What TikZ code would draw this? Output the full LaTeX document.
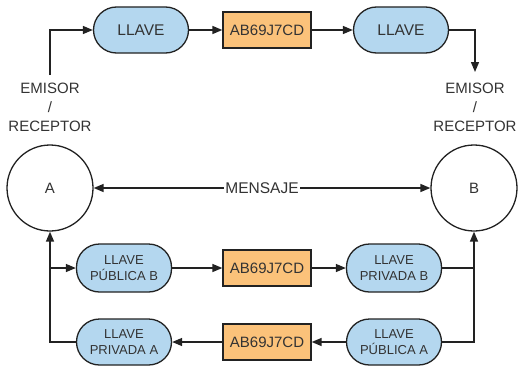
\documentclass[tikz,border=0pt]{standalone}
\usepackage{fontspec}
\setmainfont{Liberation Sans}
\usetikzlibrary{arrows.meta}
\definecolor{pillblue}{HTML}{B4D7EF}
\definecolor{boxorange}{HTML}{FBC27A}
\definecolor{txt}{HTML}{333333}
\definecolor{edge}{HTML}{222222}
\begin{document}
\begin{tikzpicture}[x=1pt,y=-1pt,
  pill/.style={draw=edge, line width=1.3pt, fill=pillblue, rounded corners=#1, minimum width=95pt, inner sep=0pt, text=txt, align=center},
  pill/.default=23pt,
  keybox/.style={draw=edge, line width=1.3pt, fill=boxorange, minimum width=88pt, minimum height=36pt, inner sep=0pt, text=txt, font=\fontsize{15}{18}\selectfont},
  party/.style={draw=edge, line width=1.3pt, circle, minimum size=86pt, inner sep=0pt, text=txt, font=\fontsize{15}{18}\selectfont},
  lbl/.style={text=txt, align=center, font=\fontsize{15}{19}\selectfont},
  conn/.style={draw=edge, line width=1.4pt},
  arr/.style={conn, -{Triangle[length=10pt,width=8pt]}},
  biarr/.style={conn, {Triangle[length=10pt,width=8pt]}-{Triangle[length=10pt,width=8pt]}}
]
\useasboundingbox (0,0) rectangle (518,369);
% top row
\node[pill, minimum height=46pt, font=\fontsize{15.5}{18}\selectfont] (k1) at (141,30) {LLAVE};
\node[keybox] (c1) at (267,30) {AB69J7CD};
\node[pill, minimum height=46pt, font=\fontsize{15.5}{18}\selectfont] (k2) at (401,30) {LLAVE};
\node[lbl] (e1) at (50,107) {EMISOR\\/\\RECEPTOR};
\node[lbl] (e2) at (475,107) {EMISOR\\/\\RECEPTOR};
\coordinate (s1) at (50,75);
\coordinate (t2) at (475,72);
\draw[arr] (s1) |- (k1.west);
\draw[arr] (k1.east) -- (c1.west);
\draw[arr] (c1.east) -- (k2.west);
\draw[arr] (k2.east) -| (t2);
% circles
\node[party] (a) at (50,188) {A};
\node[party] (b) at (474,188) {B};
\draw[biarr] (a.east) -- (b.west) node[midway, fill=white, inner xsep=1pt, text=txt, font=\fontsize{15.5}{18}\selectfont] (msg) {MENSAJE};
% row 2
\node[pill, minimum height=48pt, font=\fontsize{13}{16}\selectfont] (pubb) at (124,268) {LLAVE\\PÚBLICA B};
\node[keybox] (c2) at (267,268) {AB69J7CD};
\node[pill, minimum height=48pt, font=\fontsize{13}{16}\selectfont] (prvb) at (394,268) {LLAVE\\PRIVADA B};
% row 3
\node[pill, minimum height=46pt, font=\fontsize{13}{16}\selectfont] (prva) at (124,342) {LLAVE\\PRIVADA A};
\node[keybox] (c3) at (267,342) {AB69J7CD};
\node[pill, minimum height=46pt, font=\fontsize{13}{16}\selectfont] (puba) at (394,342) {LLAVE\\PÚBLICA A};
\coordinate (j1) at (a.south |- pubb.west);
\coordinate (j2) at (b.south |- prvb.east);
\draw[arr] (prva.west) -| (a.south);
\draw[arr] (j1) -- (pubb.west);
\draw[arr] (pubb.east) -- (c2.west);
\draw[arr] (c2.east) -- (prvb.west);
\draw[conn] (prvb.east) -- (j2);
\draw[arr] (puba.east) -| (b.south);
\draw[arr] (puba.west) -- (c3.east);
\draw[arr] (c3.west) -- (prva.east);
\end{tikzpicture}
\end{document}
